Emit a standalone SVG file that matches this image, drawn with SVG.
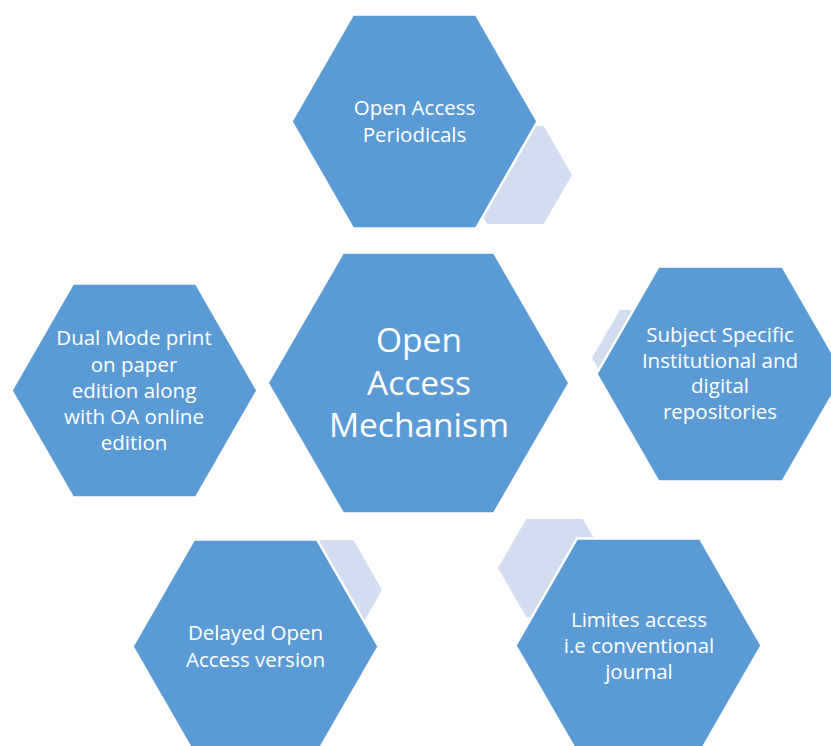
<svg xmlns="http://www.w3.org/2000/svg" width="831" height="746" viewBox="0 0 831 746">
<style>
.main{fill:#5B9BD5;stroke:#FFFFFF;stroke-width:2.5;stroke-linejoin:miter}
.accent{fill:#D2DEEF;stroke:none}
.t{fill:#FFFFFF;font-family:"Open Sans","Noto Sans","Liberation Sans",sans-serif;font-size:20.5px;text-anchor:middle}
.tc{fill:#FFFFFF;font-family:"Open Sans","Noto Sans","Liberation Sans",sans-serif;font-size:33.5px;text-anchor:middle}
</style>
<rect width="831" height="746" fill="#FFFFFF"/>
<g id="connectors">
<polygon class="accent" points="459,175 487.25,126 543.75,126 572,175 543.75,224 487.25,224"/>
<polygon class="accent" points="592,358 620,310 676,310 704,358 676,406 620,406"/>
<polygon class="accent" points="498,568 526.25,519 582.75,519 611,568 582.75,617 526.25,617"/>
<polygon class="accent" points="268,590 296.5,540 353.5,540 382,590 353.5,640 296.5,640"/>
</g>
<g id="node-periodicals">
<polygon class="main" points="291.5,121.5 353,14.5 476,14.5 537.5,121.5 476,228.5 353,228.5"/>
<text class="t" x="414.5" y="115">Open Access</text>
<text class="t" x="414.5" y="142">Periodicals</text>
</g>
<g id="node-repositories">
<polygon class="main" points="596.5,374 658.5,266.5 782.5,266.5 844.5,374 782.5,481.5 658.5,481.5"/>
<text class="t" x="720" y="342">Subject Specific</text>
<text class="t" x="720" y="367.5">Institutional and</text>
<text class="t" x="720" y="393">digital</text>
<text class="t" x="720" y="419">repositories</text>
</g>
<g id="node-limited">
<polygon class="main" points="515.5,645.5 577,538.5 700,538.5 761.5,645.5 700,752.5 577,752.5"/>
<text class="t" x="639" y="627">Limites access</text>
<text class="t" x="639" y="653">i.e conventional</text>
<text class="t" x="639" y="678.5">journal</text>
</g>
<g id="node-delayed">
<polygon class="main" points="132.5,646.5 194,539.5 317,539.5 378.5,646.5 317,753.5 194,753.5"/>
<text class="t" x="255.5" y="640">Delayed Open</text>
<text class="t" x="255.5" y="667">Access version</text>
</g>
<g id="node-dual">
<polygon class="main" points="11.5,390.5 73,283.5 196,283.5 257.5,390.5 196,497.5 73,497.5"/>
<text class="t" x="134" y="345">Dual Mode print</text>
<text class="t" x="134" y="371.5">on paper</text>
<text class="t" x="134" y="397.5">edition along</text>
<text class="t" x="134" y="423.5">with OA online</text>
<text class="t" x="134" y="450">edition</text>
</g>
<g id="node-center">
<polygon class="main" points="267.5,383 343,252.5 494,252.5 569.5,383 494,513.5 343,513.5"/>
<text class="tc" x="419" y="352">Open</text>
<text class="tc" x="419" y="395">Access</text>
<text class="tc" x="419" y="437">Mechanism</text>
</g>
</svg>
